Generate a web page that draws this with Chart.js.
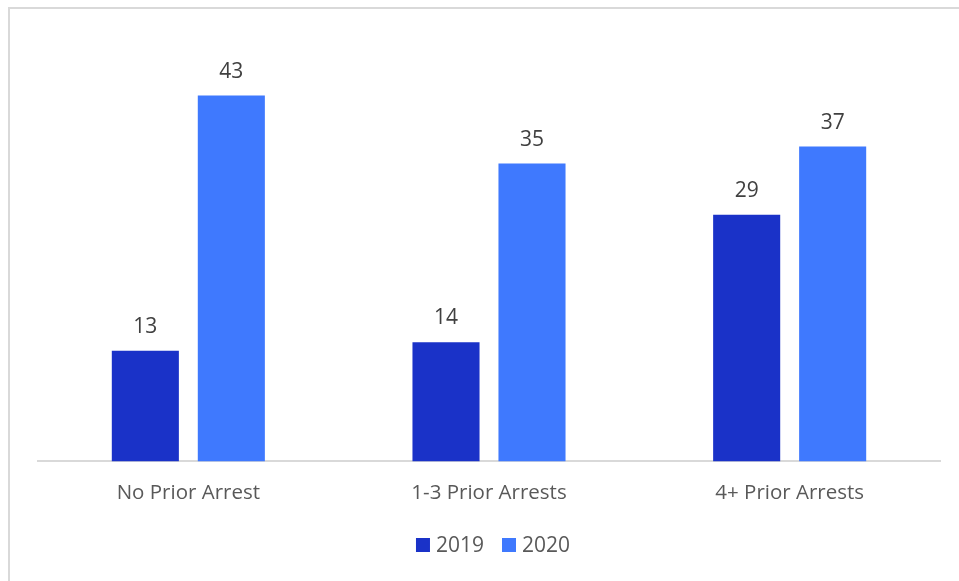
<!DOCTYPE html>
<html>
<head>
<meta charset="utf-8">
<script src="https://cdn.jsdelivr.net/npm/chart.js@4"></script>
<style>
html,body{margin:0;padding:0;background:#fff;}
#wrap{position:relative;width:959px;height:581px;}
</style>
</head>
<body>
<div id="wrap"><canvas id="c" width="959" height="581"></canvas></div>
<script>
const categories = ["No Prior Arrest", "1-3 Prior Arrests", "4+ Prior Arrests"];
const seriesNames = ["2019", "2020"];
const values2019 = [13, 14, 29];
const values2020 = [43, 35, 37];
const colors = ["#1a32c8", "#3f79fe"];

const frame = {
  id: 'frame',
  beforeDraw(chart) {
    const ctx = chart.ctx;
    ctx.save();
    ctx.fillStyle = '#fff';
    ctx.fillRect(0, 0, chart.width, chart.height);
    ctx.strokeStyle = '#d9d9d9';
    ctx.lineWidth = 2;
    ctx.beginPath();
    ctx.moveTo(9, 581);
    ctx.lineTo(9, 8);
    ctx.lineTo(959, 8);
    ctx.stroke();
    ctx.restore();
  }
};

const valueLabels = {
  id: 'valueLabels',
  afterDatasetsDraw(chart) {
    const ctx = chart.ctx;
    ctx.save();
    ctx.font = '21px "Open Sans"';
    ctx.fillStyle = '#404040';
    ctx.textAlign = 'center';
    ctx.textBaseline = 'middle';
    chart.data.datasets.forEach((ds, i) => {
      const meta = chart.getDatasetMeta(i);
      meta.data.forEach((bar, j) => {
        ctx.fillText(String(ds.data[j]), bar.x, bar.y - 24);
      });
    });
    ctx.restore();
  }
};

const bottomLegend = {
  id: 'bottomLegend',
  afterDraw(chart) {
    const ctx = chart.ctx;
    ctx.save();
    ctx.font = '21px "Open Sans"';
    ctx.textBaseline = 'middle';
    ctx.textAlign = 'left';
    const box = 14, gapText = 6, gapItem = 18, cy = 545;
    const items = chart.data.datasets.map(ds => ({ label: ds.label, color: ds.backgroundColor, w: ctx.measureText(ds.label).width }));
    let total = 0;
    items.forEach((it, i) => { total += box + gapText + it.w + (i < items.length - 1 ? gapItem : 0); });
    let x = 493 - total / 2;
    items.forEach(it => {
      ctx.fillStyle = it.color;
      ctx.fillRect(x, cy - box / 2, box, box);
      x += box + gapText;
      ctx.fillStyle = '#595959';
      ctx.fillText(it.label, x, cy + 1);
      x += it.w + gapItem;
    });
    ctx.restore();
  }
};

new Chart(document.getElementById('c'), {
  type: 'bar',
  data: {
    labels: categories,
    datasets: [
      { label: seriesNames[0], data: values2019, backgroundColor: colors[0], categoryPercentage: 0.572, barPercentage: 0.78 },
      { label: seriesNames[1], data: values2020, backgroundColor: colors[1], categoryPercentage: 0.572, barPercentage: 0.78 }
    ]
  },
  options: {
    responsive: false,
    animation: false,
    layout: { padding: { left: 38, right: 19, top: 36, bottom: 65 } },
    plugins: {
      legend: { display: false },
      tooltip: { enabled: false }
    },
    scales: {
      x: {
        grid: { display: false },
        border: { display: true, color: '#d9d9d9', width: 2 },
        ticks: { color: '#595959', font: { family: 'Open Sans', size: 20.5 }, padding: 11 }
      },
      y: {
        display: false,
        min: 0, max: 50
      }
    }
  },
  plugins: [frame, valueLabels, bottomLegend]
});
</script>
</body>
</html>
